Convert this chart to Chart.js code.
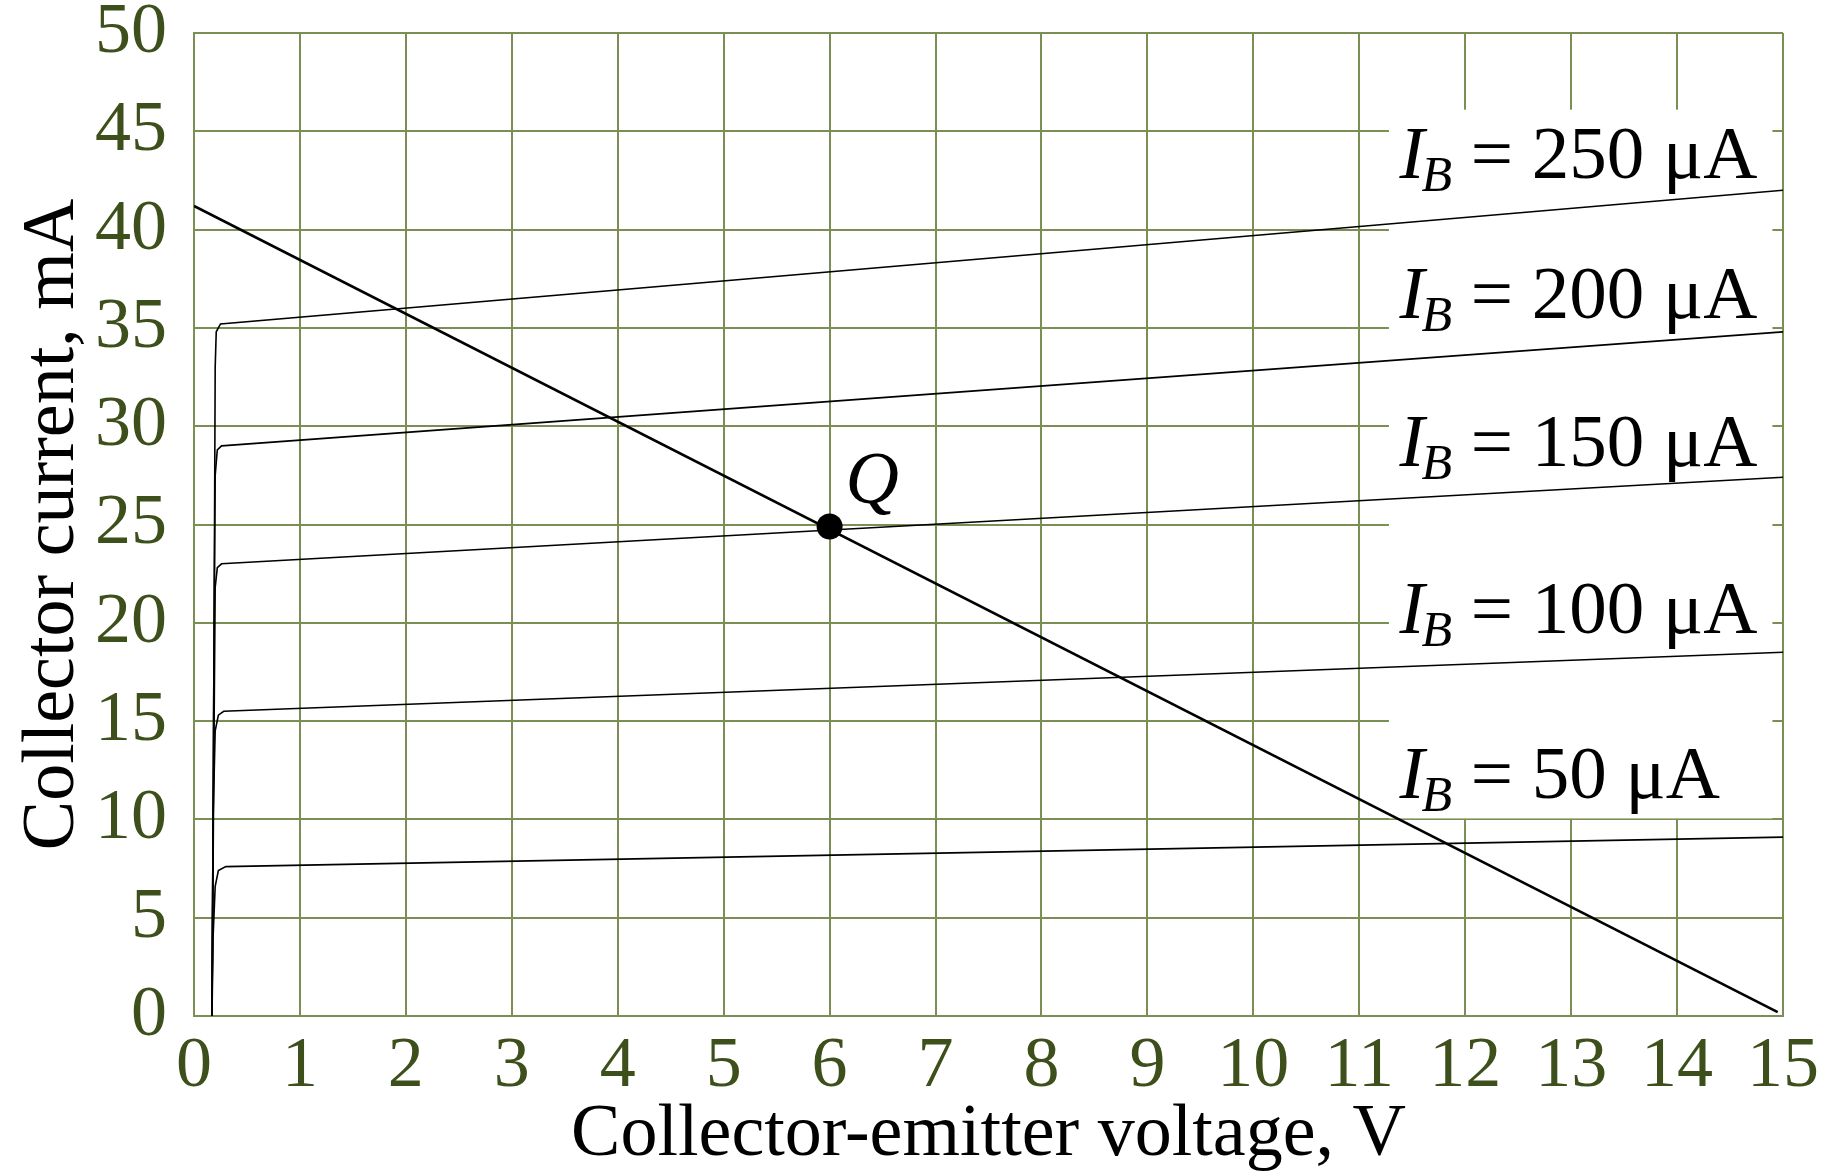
<!DOCTYPE html>
<html>
<head>
<meta charset="utf-8">
<script src="https://cdn.jsdelivr.net/npm/chart.js@4.4.1/dist/chart.umd.min.js"></script>
<style>
  html, body { margin: 0; padding: 0; background: #fff; }
  #wrap { width: 1833px; height: 1176px; position: relative; }
</style>
</head>
<body>
<div id="wrap"><canvas id="chart"></canvas></div>
<script>
// ---- data: transistor output characteristics (VCE in V, IC in mA) ----
const VCE_TICKS = [0, 1, 2, 3, 4, 5, 6, 7, 8, 9, 10, 11, 12, 13, 14, 15];
const IC_TICKS  = [0, 5, 10, 15, 20, 25, 30, 35, 40, 45, 50];

const IB_LEVELS = ['250', '200', '150', '100', '50']; // µA

const VCE_250 = [0.17, 0.19, 0.20, 0.21, 0.25, 15];
const IC_250  = [0,    20,   33,   34.8, 35.2, 42.0];
const VCE_200 = [0.17, 0.19, 0.20, 0.22, 0.26, 15];
const IC_200  = [0,    20,   27.5, 28.8, 29.0, 34.8];
const VCE_150 = [0.17, 0.19, 0.20, 0.22, 0.26, 15];
const IC_150  = [0,    15,   21.8, 22.8, 23.0, 27.4];
const VCE_100 = [0.17, 0.18, 0.20, 0.23, 0.28, 15];
const IC_100  = [0,    10,   14.5, 15.3, 15.5, 18.5];
const VCE_50  = [0.17, 0.18, 0.20, 0.23, 0.30, 15];
const IC_50   = [0,    4,    6.6,  7.4,  7.6,  9.1];

// load line and operating point
const LOAD_VCE = [0, 14.95];
const LOAD_IC  = [41.2, 0.2];
const Q_VCE = [6];
const Q_IC  = [24.9];

const GRID = '#7b8e53';
const TICK = '#3d4f1a';
const SERIF = '"Liberation Serif", "DejaVu Serif", serif';

const pts = (xs, ys) => xs.map((x, i) => ({ x: x, y: ys[i] }));

const curves = [
  [VCE_250, IC_250], [VCE_200, IC_200], [VCE_150, IC_150], [VCE_100, IC_100], [VCE_50, IC_50]
];

// white patch behind the IB labels (grid hidden there)
const labelBox = {
  id: 'labelBox',
  beforeDatasetsDraw(chart, args, o) {
    const { ctx, scales: { x, y } } = chart;
    const l = x.getPixelForValue(o.x0), r = x.getPixelForValue(o.x1);
    const t = y.getPixelForValue(o.y1), b = y.getPixelForValue(o.y0);
    ctx.save();
    ctx.fillStyle = '#fff';
    ctx.fillRect(l, t, r - l, b - t);
    ctx.restore();
  }
};

// "I_B = ... µA" labels and the Q marker label
const textLabels = {
  id: 'textLabels',
  afterDatasetsDraw(chart, args, o) {
    const { ctx, scales: { x, y } } = chart;
    ctx.save();
    ctx.fillStyle = '#000';
    ctx.textBaseline = 'alphabetic';
    ctx.textAlign = 'left';
    IB_LEVELS.forEach((lvl, i) => {
      let px = x.getPixelForValue(o.ibX);
      const py = y.getPixelForValue(o.ibY[i]);
      ctx.font = 'italic 75px ' + SERIF;
      ctx.fillText('I', px, py);
      px += ctx.measureText('I').width - 3;
      ctx.font = 'italic 50px ' + SERIF;
      ctx.fillText('B', px, py + 13);
      px += ctx.measureText('B').width;
      ctx.font = '75px ' + SERIF;
      ctx.fillText(' = ' + lvl + ' \u03bcA', px, py);
    });
    ctx.font = 'italic 74px ' + SERIF;
    ctx.fillText('Q', x.getPixelForValue(o.qX), y.getPixelForValue(o.qY));
    ctx.restore();
  }
};

const lineDs = (d) => ({
  data: pts(d[0], d[1]), showLine: true, borderColor: '#000', borderWidth: 1.6,
  pointRadius: 0, tension: 0, fill: false
});

new Chart(document.getElementById('chart'), {
  type: 'scatter',
  data: {
    datasets: [
      { data: pts(Q_VCE, Q_IC), pointRadius: 13, pointHoverRadius: 13,
        backgroundColor: '#000', borderColor: '#000', borderWidth: 0, showLine: false },
      { data: pts(LOAD_VCE, LOAD_IC), showLine: true, borderColor: '#000', borderWidth: 2.6,
        pointRadius: 0, fill: false },
      ...curves.map(lineDs)
    ]
  },
  options: {
    responsive: true, maintainAspectRatio: false, animation: false,
    events: [],
    layout: { padding: { top: 33, right: 50, left: 0, bottom: 0 } },
    plugins: {
      legend: { display: false },
      tooltip: { enabled: false },
      labelBox: { x0: 11.28, x1: 14.9, y0: 10.05, y1: 46.1 },
      textLabels: { ibX: 11.38, ibY: [42.6, 35.5, 28.0, 19.5, 11.1], qX: 6.15, qY: 26.1 }
    },
    scales: {
      x: {
        type: 'linear', min: 0, max: 15,
        afterBuildTicks: (ax) => { ax.ticks = VCE_TICKS.map(v => ({ value: v })); },
        afterFit: (ax) => { ax.height = 160; ax.paddingLeft = 0; ax.paddingRight = 0; },
        grid: { color: GRID, lineWidth: 2, drawTicks: false },
        border: { color: GRID, width: 2 },
        ticks: { color: TICK, padding: 19, maxRotation: 0, autoSkip: false,
                 font: { family: SERIF, size: 72, lineHeight: 0.9 } },
        title: { display: true, text: 'Collector-emitter voltage, V', color: '#000',
                 font: { family: SERIF, size: 74, lineHeight: 1 }, padding: { top: 0, bottom: 3 } }
      },
      y: {
        type: 'linear', min: 0, max: 50,
        afterBuildTicks: (ax) => { ax.ticks = IC_TICKS.map(v => ({ value: v })); },
        afterFit: (ax) => { ax.width = 194; ax.paddingTop = 0; ax.paddingBottom = 0; },
        grid: { color: GRID, lineWidth: 2, drawTicks: false },
        border: { color: GRID, width: 2 },
        ticks: { color: TICK, padding: 27, autoSkip: false,
                 font: { family: SERIF, size: 72, lineHeight: 0.9 } },
        title: { display: true, text: 'Collector current, mA', color: '#000',
                 font: { family: SERIF, size: 74, lineHeight: 1 }, padding: { top: 17, bottom: 0 } }
      }
    }
  },
  plugins: [labelBox, textLabels]
});
</script>
</body>
</html>
